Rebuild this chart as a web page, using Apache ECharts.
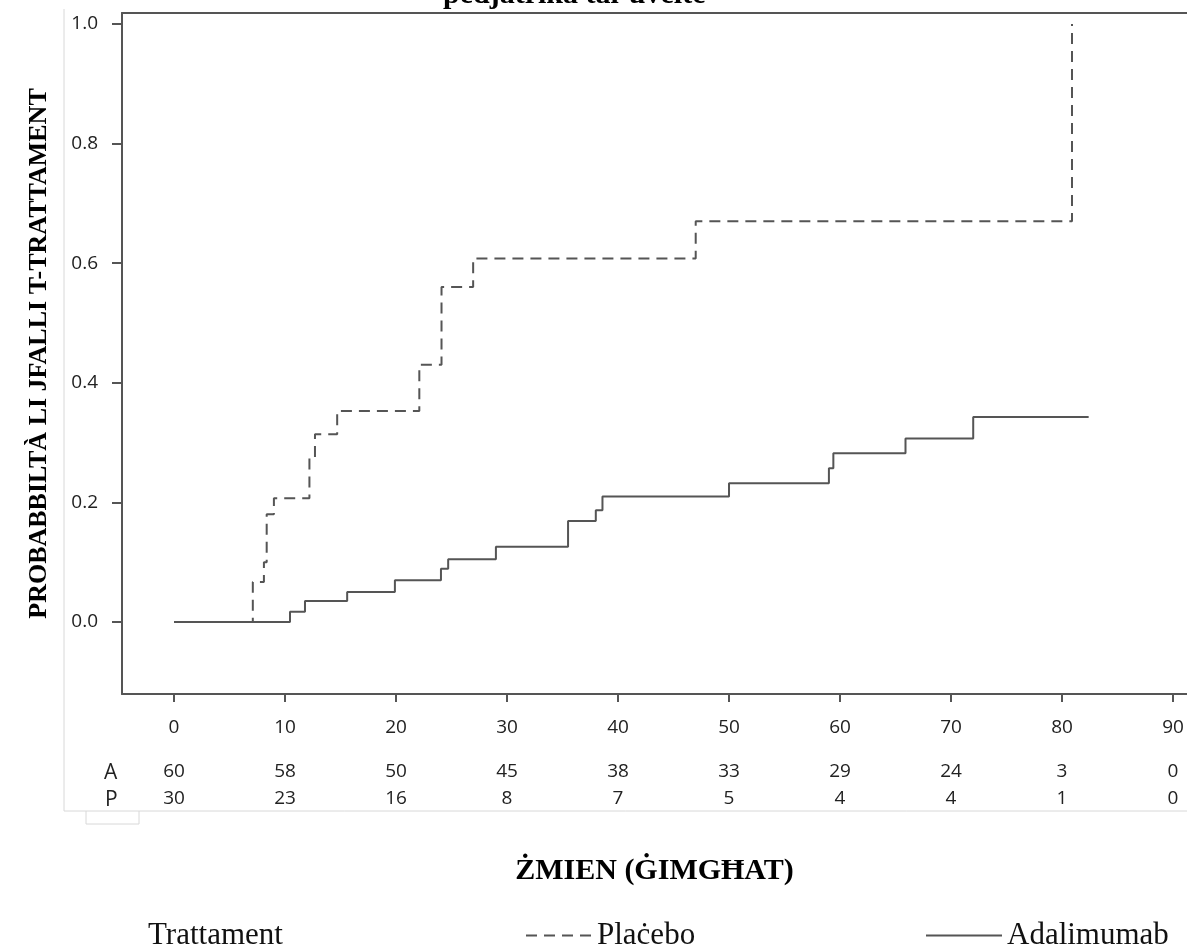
<!DOCTYPE html>
<html>
<head>
<meta charset="utf-8">
<script src="https://cdn.jsdelivr.net/npm/echarts@6/dist/echarts.min.js"></script>
<style>
  html, body { margin: 0; padding: 0; background: #fff; }
  #main { width: 1187px; height: 946px; }
</style>
</head>
<body>
<div id="main"></div>
<script>
// time ticks (months) and probability ticks
var timeTicks = [0, 10, 20, 30, 40, 50, 60, 70, 80, 90];
var probTicks = [0, 0.2, 0.4, 0.6, 0.8, 1.0];

// number at risk under each time tick
var atRiskA = [60, 58, 50, 45, 38, 33, 29, 24, 3, 0];
var atRiskP = [30, 23, 16, 8, 7, 5, 4, 4, 1, 0];

// Kaplan-Meier steps: [time, cumulative probability of failure]
var placebo = [
    [0, 0], [7.1, 0.067], [8.1, 0.10], [8.35, 0.18], [9.0, 0.207],
    [12.2, 0.274], [12.7, 0.314], [14.7, 0.353], [22.1, 0.43],
    [24.1, 0.56], [26.95, 0.608], [47.0, 0.67], [80.9, 1.0]
];
var adalimumab = [
    [0, 0], [10.45, 0.017], [11.8, 0.035], [15.6, 0.05], [19.9, 0.07],
    [24.05, 0.089], [24.7, 0.105], [29.0, 0.126], [35.5, 0.169],
    [38.0, 0.187], [38.6, 0.21], [50.0, 0.232], [59.0, 0.257],
    [59.4, 0.282], [65.9, 0.307], [72.0, 0.343], [82.4, 0.343]
];

var chart = echarts.init(document.getElementById('main'), null, { renderer: 'canvas' });

var serif = "'Liberation Serif', 'Times New Roman', serif";
var sans = "'Open Sans', 'Noto Sans', sans-serif";
var axisColor = '#555';
var xMin = -4.685, xMax = 91.26;

function riskAxis(arr, off) {
    return {
        type: 'value', min: xMin, max: xMax, position: 'bottom', offset: off,
        axisLine: { show: false, onZero: false }, axisTick: { show: false }, splitLine: { show: false },
        axisLabel: {
            customValues: timeTicks, margin: 24, fontSize: 19, color: '#222', fontFamily: sans,
            formatter: function (v) { return String(arr[timeTicks.indexOf(v)]); }
        }
    };
}

var legendText = { fontFamily: serif, fontSize: 31, color: '#111' };

var option = {
    animation: false,
    backgroundColor: '#fff',
    grid: { left: 122, right: 0, top: 13, bottom: 252, containLabel: false },
    xAxis: [{
        type: 'value', min: xMin, max: xMax, position: 'bottom',
        name: 'ŻMIEN (ĠIMGĦAT)', nameLocation: 'middle', nameGap: 162,
        nameTextStyle: { fontFamily: serif, fontWeight: 'bold', fontSize: 30, color: '#000' },
        axisLine: { onZero: false, lineStyle: { color: axisColor, width: 2 } },
        axisTick: { customValues: timeTicks, length: 8, lineStyle: { color: axisColor, width: 2 } },
        axisLabel: { customValues: timeTicks, margin: 24, fontSize: 19, color: '#222', fontFamily: sans },
        splitLine: { show: false }
    }, {
        type: 'value', min: xMin, max: xMax, position: 'top',
        axisLine: { onZero: false, lineStyle: { color: axisColor, width: 2 } },
        axisTick: { show: false }, axisLabel: { show: false }, splitLine: { show: false }
    },
        riskAxis(atRiskA, 44),
        riskAxis(atRiskP, 71)
    ],
    yAxis: {
        type: 'value', min: -0.1204, max: 1.0184,
        name: 'PROBABBILTÀ LI JFALLI T-TRATTAMENT', nameLocation: 'middle', nameGap: 70,
        nameTextStyle: { fontFamily: serif, fontWeight: 'bold', fontSize: 26, color: '#000' },
        axisLine: { show: true, onZero: false, lineStyle: { color: axisColor, width: 2 } },
        axisTick: { show: true, customValues: probTicks, length: 10, lineStyle: { color: axisColor, width: 2 } },
        axisLabel: {
            customValues: probTicks, margin: 24, fontSize: 19, color: '#222', fontFamily: sans,
            formatter: function (v) { return v.toFixed(1); }
        },
        splitLine: { show: false }
    },
    legend: [{
        data: ['Plaċebo'], left: 525, top: 920, padding: 0, selectedMode: false,
        itemWidth: 66, itemHeight: 14, itemStyle: { opacity: 0 },
        textStyle: legendText
    }, {
        data: ['Adalimumab'], left: 925, top: 920, padding: 0, selectedMode: false,
        itemWidth: 76, itemHeight: 14, itemStyle: { opacity: 0 },
        textStyle: legendText
    }],
    graphic: [
        // faint frame left over from the source image
        { type: 'line', silent: true, z: -1, shape: { x1: 64, y1: 9, x2: 64, y2: 811 }, style: { stroke: '#d8d8d8', lineWidth: 1 } },
        { type: 'line', silent: true, z: -1, shape: { x1: 64, y1: 811, x2: 1187, y2: 811 }, style: { stroke: '#d8d8d8', lineWidth: 1 } },
        { type: 'polyline', silent: true, z: -1, shape: { points: [[86, 811], [86, 824], [139, 824], [139, 811]] }, style: { stroke: '#d8d8d8', lineWidth: 1, fill: null } },
        {
            type: 'text', left: 443, top: -20,
            style: { text: 'pedjatrika tal-uveite', font: 'bold 30px ' + serif, fill: '#000' }
        },
        {
            type: 'text', left: 148, top: 920,
            style: { text: 'Trattament', font: '31px ' + serif, fill: '#111' }
        },
        {
            type: 'text', left: 104, top: 763,
            style: { text: 'A', font: '21px ' + sans, fill: '#222' }
        },
        {
            type: 'text', left: 105, top: 790,
            style: { text: 'P', font: '21px ' + sans, fill: '#222' }
        }
    ],
    series: [{
        name: 'Plaċebo', type: 'line', step: 'end', xAxisIndex: 0,
        symbol: 'none', silent: true,
        lineStyle: { color: '#555', width: 2, type: [11, 7] },
        itemStyle: { color: '#555' },
        data: placebo
    }, {
        name: 'Adalimumab', type: 'line', step: 'end', xAxisIndex: 0,
        symbol: 'none', silent: true,
        lineStyle: { color: '#555', width: 2, type: 'solid' },
        itemStyle: { color: '#555' },
        data: adalimumab
    }]
};

chart.setOption(option);
</script>
</body>
</html>
